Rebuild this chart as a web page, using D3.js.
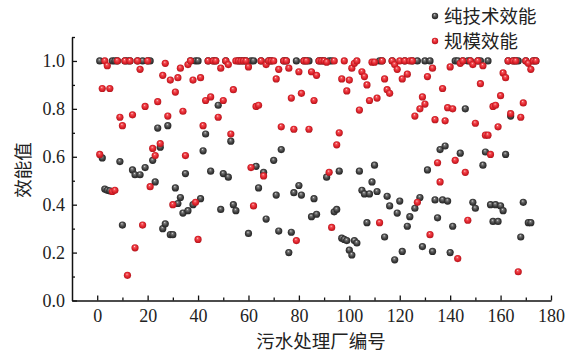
<!DOCTYPE html>
<html><head><meta charset="utf-8">
<script src="https://cdn.jsdelivr.net/npm/d3@7"></script>
<style>
html,body{margin:0;padding:0;background:#fff;}
svg{display:block;}
.tick text{font-family:"Liberation Serif","Times New Roman",serif;font-size:18px;fill:#222;}
</style>
</head><body>
<svg id="c" width="572" height="361"></svg>
<script>
// ---- data ----
const plantIds = d3.range(1, 175);
const pureTechEff = [
1.0,0.595,0.465,0.46,0.458,1.0,1.0,1.0,0.58,0.315,
1.0,1.0,1.0,0.545,0.525,1.0,0.525,1.0,0.555,1.0,
1.0,0.585,0.495,0.72,0.64,0.30,0.32,0.73,0.275,0.275,
0.47,0.405,0.43,0.365,0.53,0.375,1.0,0.40,1.0,1.0,
0.425,0.625,0.695,1.0,0.54,1.0,1.0,0.815,0.38,0.53,
1.0,0.515,0.665,0.40,0.375,1.0,1.0,1.0,1.0,0.28,
1.0,1.0,0.56,0.47,1.0,0.535,0.34,1.0,1.0,0.585,
0.44,0.29,0.63,1.0,1.0,0.20,0.285,0.45,1.0,0.48,
0.44,1.0,1.0,1.0,0.35,0.425,0.36,1.0,1.0,1.0,
0.515,1.0,1.0,0.37,0.38,0.54,0.26,0.255,0.25,0.21,
0.19,0.25,0.24,0.54,0.46,0.445,0.325,0.445,0.495,0.565,
0.455,1.0,1.0,0.265,0.435,0.395,1.0,0.17,0.365,0.415,
0.205,1.0,0.31,0.35,1.0,0.385,1.0,0.43,0.225,1.0,
0.545,1.0,0.205,0.42,0.345,0.63,0.42,0.645,0.415,0.20,
0.31,1.0,1.0,0.615,1.0,0.80,1.0,1.0,0.41,0.385,
1.0,1.0,0.565,0.62,1.0,0.40,0.33,0.40,0.33,0.395,
0.375,0.61,1.0,0.77,1.0,1.0,1.0,0.265,0.41,1.0,
0.325,0.325,1.0,1.0
];
const scaleEff = [
0.61,0.885,1.0,0.98,0.885,0.455,0.46,1.0,0.765,0.73,
1.0,0.105,1.0,0.775,0.22,1.0,0.965,0.315,0.81,1.0,
0.475,0.635,0.605,0.83,0.655,0.94,0.99,0.77,0.92,0.40,
0.87,0.93,0.97,0.79,0.605,0.985,1.0,0.92,0.41,0.255,
0.93,0.73,0.835,1.0,0.85,1.0,1.0,0.765,0.97,0.835,
1.0,0.985,0.695,0.88,1.0,1.0,1.0,1.0,1.0,0.975,
0.555,0.395,0.81,0.815,1.0,0.52,0.985,1.0,1.0,1.0,
0.925,0.965,0.725,1.0,1.0,0.97,0.845,0.715,0.25,0.955,
0.865,1.0,1.0,0.715,0.955,0.835,0.94,1.0,1.0,1.0,
0.995,0.535,0.305,1.0,0.65,0.70,0.925,1.0,0.875,0.92,
0.97,0.99,1.0,0.795,0.955,0.935,0.90,0.835,0.995,0.995,
0.845,0.325,1.0,0.925,0.88,0.865,1.0,0.985,0.965,1.0,
0.925,1.0,0.945,1.0,1.0,0.77,0.41,0.80,0.85,0.82,
0.935,0.275,0.97,0.755,0.575,0.495,0.885,0.75,0.805,0.975,
0.80,0.585,0.175,0.99,1.0,0.535,0.335,1.0,0.985,0.74,
1.0,0.905,0.98,0.69,0.69,0.61,0.81,0.815,0.725,0.855,
0.95,0.93,1.0,0.78,1.0,1.0,0.12,0.765,0.825,1.0,
0.99,0.965,1.0,1.0
];
const seriesNames = ["纯技术效能", "规模效能"];
const xMajorTicks = [0,20,40,60,80,100,120,140,160,180];
const xMinorTicks = [10,30,50,70,90,110,130,150,170];
const yMajorTicks = [0,0.2,0.4,0.6,0.8,1.0];
const yMinorTicks = [0.1,0.3,0.5,0.7,0.9,1.1];
const xTitle = "污水处理厂编号";
const yTitle = "效能值";

// ---- drawing ----
const svg = d3.select("#c");
const x = d3.scaleLinear().domain([-10,180]).range([72,551]);
const y = d3.scaleLinear().domain([0,1.1]).range([300.5,37]);

const defs = svg.append("defs");
function sphere(id, stops){
  const g = defs.append("radialGradient").attr("id", id)
    .attr("cx","50%").attr("cy","50%").attr("r","55%").attr("fx","42%").attr("fy","30%");
  stops.forEach(s => g.append("stop").attr("offset", s[0]).attr("stop-color", s[1]));
}
sphere("gGray", [["0%","#e6e6e6"],["22%","#7a7a7a"],["60%","#404040"],["100%","#1e1e1e"]]);
sphere("gRed",  [["0%","#ffe0e0"],["22%","#f2575c"],["60%","#e2232c"],["100%","#a8141a"]]);

// axes
const xAxis = svg.append("g").attr("transform",`translate(0,${y(0)})`)
  .call(d3.axisBottom(x).tickValues(xMajorTicks).tickSize(-5).tickSizeOuter(0).tickPadding(9).tickFormat(d3.format("d")));
svg.append("g").attr("transform",`translate(0,${y(0)})`)
  .call(d3.axisBottom(x).tickValues(xMinorTicks).tickSize(-3).tickSizeOuter(0).tickFormat(""))
  .select(".domain").remove();
const yAxis = svg.append("g").attr("transform",`translate(${x(-10)},0)`)
  .call(d3.axisLeft(y).tickValues(yMajorTicks).tickSize(-5).tickSizeOuter(0).tickPadding(7).tickFormat(d3.format(".1f")));
svg.append("g").attr("transform",`translate(${x(-10)},0)`)
  .call(d3.axisLeft(y).tickValues(yMinorTicks).tickSize(-3).tickSizeOuter(0).tickFormat(""))
  .select(".domain").remove();
svg.selectAll(".domain").attr("stroke","#111").attr("stroke-width",1.5);
svg.selectAll(".tick line").attr("stroke","#111").attr("stroke-width",1.3);
xAxis.selectAll(".tick text").attr("dy","0.71em");

// titles
svg.append("text").attr("x",321).attr("y",348).attr("text-anchor","middle")
  .style("font-family","'Noto Sans CJK SC',sans-serif").style("font-size","18.5px").attr("fill","#222")
  .text(xTitle);
svg.append("text").attr("transform","translate(30,170) rotate(-90)").attr("text-anchor","middle")
  .style("font-family","'Noto Sans CJK SC',sans-serif").style("font-size","18.5px").attr("fill","#222")
  .text(yTitle);

// points
const r = 3.6;
svg.append("g").selectAll("circle").data(plantIds).join("circle")
  .attr("cx", (d,i) => x(d)).attr("cy", (d,i) => y(pureTechEff[i])).attr("r", r)
  .attr("fill","url(#gGray)");
svg.append("g").selectAll("circle").data(plantIds).join("circle")
  .attr("cx", (d,i) => x(d)).attr("cy", (d,i) => y(scaleEff[i])).attr("r", r)
  .attr("fill","url(#gRed)");

// legend
const leg = svg.append("g");
const legFills = ["url(#gGray)","url(#gRed)"];
seriesNames.forEach((name,k) => {
  const cy = 16 + k*25;
  leg.append("circle").attr("cx",435).attr("cy",cy).attr("r",3.2).attr("fill",legFills[k]);
  leg.append("text").attr("x",444).attr("y",cy+6.5)
    .style("font-family","'Noto Sans CJK SC',sans-serif").style("font-size","18.5px").attr("fill","#222")
    .text(name);
});
</script>
</body></html>
